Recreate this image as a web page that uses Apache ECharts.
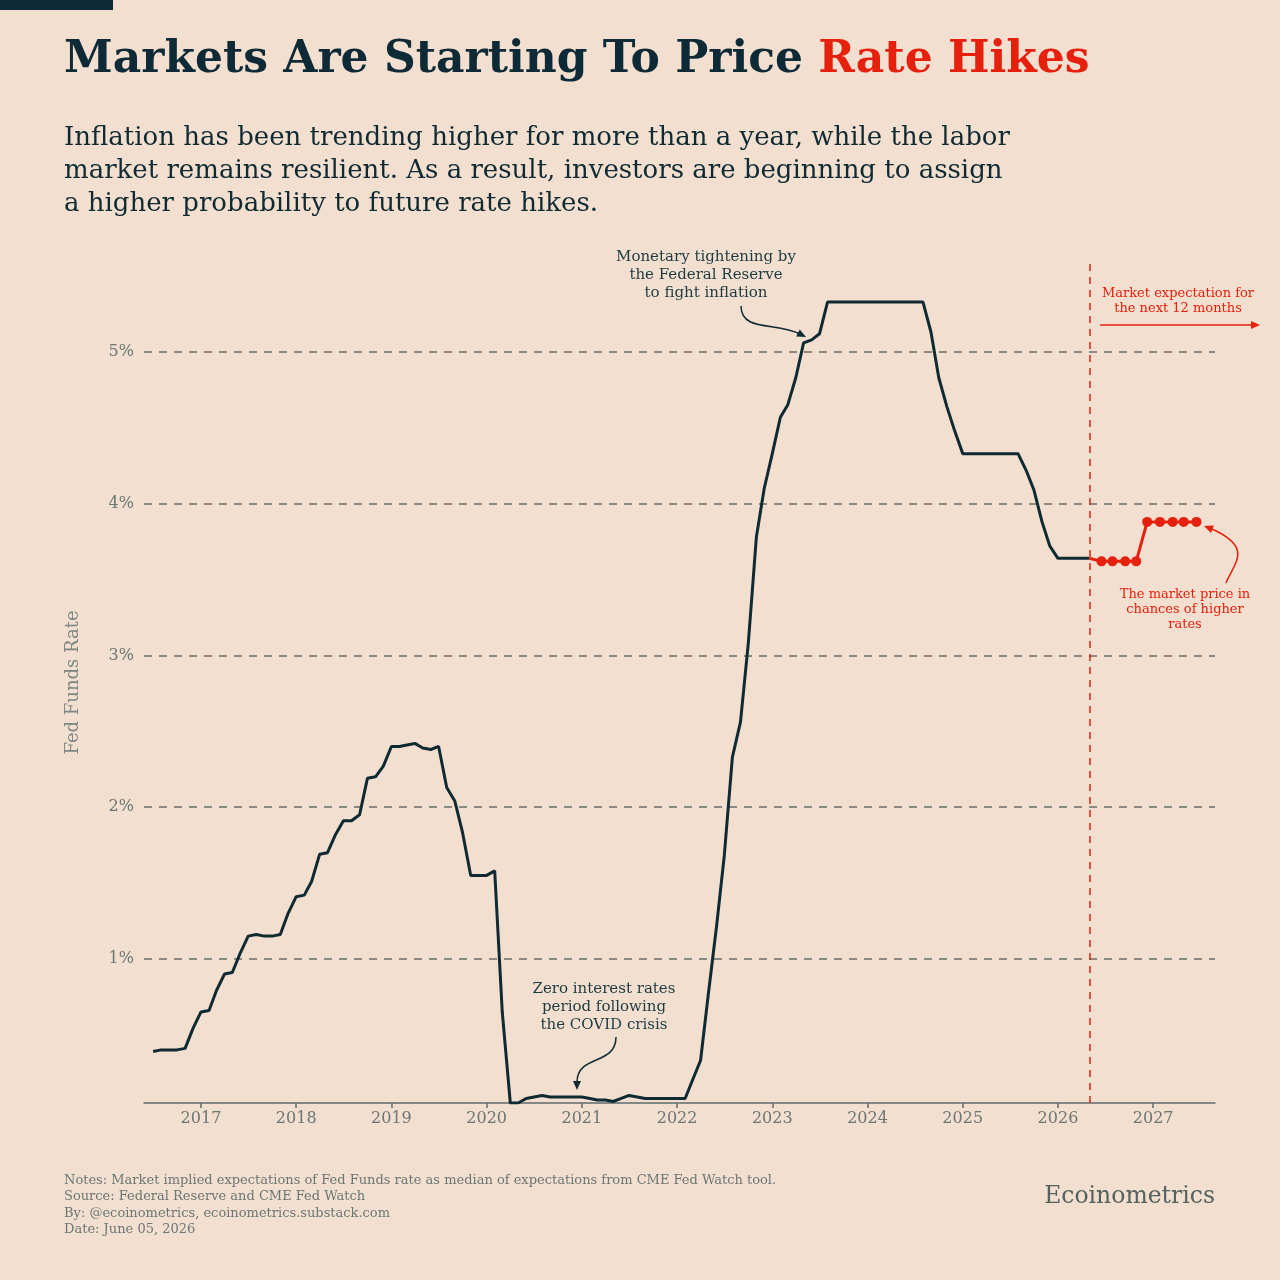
<!DOCTYPE html>
<html>
<head>
<meta charset="utf-8">
<script src="https://cdn.jsdelivr.net/npm/echarts@6.0.0/dist/echarts.min.js"></script>
<style>
  html, body { margin: 0; padding: 0; background: #f2dfcf; }
  #ChartDom { width: 1280px; height: 1280px; }
</style>
</head>
<body>
<div id="ChartDom"></div>
<script>
// monthly effective fed funds rate, starting July 2016
const startYear = 2016
const startMonth = 7
const fedFunds = [
  0.39, 0.40, 0.40, 0.40, 0.41, 0.54,
  0.65, 0.66, 0.79, 0.90, 0.91, 1.04, 1.15, 1.16, 1.15, 1.15, 1.16, 1.30,
  1.41, 1.42, 1.51, 1.69, 1.70, 1.82, 1.91, 1.91, 1.95, 2.19, 2.20, 2.27,
  2.40, 2.40, 2.41, 2.42, 2.39, 2.38, 2.40, 2.13, 2.04, 1.83, 1.55, 1.55,
  1.55, 1.58, 0.65, 0.05, 0.05, 0.08, 0.09, 0.10, 0.09, 0.09, 0.09, 0.09,
  0.09, 0.08, 0.07, 0.07, 0.06, 0.08, 0.10, 0.09, 0.08, 0.08, 0.08, 0.08,
  0.08, 0.08, 0.20, 0.33, 0.77, 1.21, 1.68, 2.33, 2.56, 3.08, 3.78, 4.10,
  4.33, 4.57, 4.65, 4.83, 5.06, 5.08, 5.12, 5.33, 5.33, 5.33, 5.33, 5.33,
  5.33, 5.33, 5.33, 5.33, 5.33, 5.33, 5.33, 5.33, 5.13, 4.83, 4.64, 4.48,
  4.33, 4.33, 4.33, 4.33, 4.33, 4.33, 4.33, 4.33, 4.22, 4.09, 3.88, 3.72,
  3.64, 3.64, 3.64, 3.64, 3.64
]
// market implied path at upcoming FOMC meetings
const lastObserved = "2026-05-01"
const meetingDates = [
  "2026-06-17", "2026-07-29", "2026-09-16", "2026-10-28", "2026-12-09",
  "2027-01-27", "2027-03-17", "2027-04-28", "2027-06-16"
]
const expectedRates = [3.62, 3.62, 3.62, 3.62, 3.88, 3.88, 3.88, 3.88, 3.88]
const yearTicks = [2017, 2018, 2019, 2020, 2021, 2022, 2023, 2024, 2025, 2026, 2027]
const rateTicks = [1, 2, 3, 4, 5]

const DARK = "#0f2a33"
const RED = "#e5200c"
const GREY = "#6b7675"
const FONT = "DejaVu Serif"

// date string -> decimal year, so the x axis can be a plain value axis
function toYear(s) {
  const p = s.split("-").map(Number)
  const start = Date.UTC(p[0], 0, 1)
  const end = Date.UTC(p[0] + 1, 0, 1)
  return p[0] + (Date.UTC(p[0], p[1] - 1, p[2]) - start) / (end - start)
}

function monthDate(i) {
  const m = startMonth - 1 + i
  const y = startYear + Math.floor(m / 12)
  const mm = (m % 12) + 1
  return y + "-" + String(mm).padStart(2, "0") + "-01"
}

const lineData = fedFunds.map((v, i) => [toYear(monthDate(i)), v])
const expData = [{ value: [toYear(lastObserved), fedFunds[fedFunds.length - 1]], symbol: "none" }]
meetingDates.forEach((d, i) => expData.push([toYear(d), expectedRates[i]]))

function arrowHead(x, y, dx, dy, color) {
  const len = Math.sqrt(dx * dx + dy * dy)
  const ux = dx / len, uy = dy / len
  const bx = x - ux * 9, by = y - uy * 9
  return {
    type: "polygon",
    shape: { points: [[x, y], [bx - uy * 4, by + ux * 4], [bx + uy * 4, by - ux * 4]] },
    style: { fill: color },
    z: 20,
  }
}

function curve(s, color) {
  return {
    type: "bezierCurve",
    shape: s,
    style: { stroke: color, lineWidth: 1.5, fill: null },
    z: 20,
  }
}

const chartDom = document.getElementById("ChartDom")
const myChart = echarts.init(chartDom)
const option = {
  backgroundColor: "#f2dfcf",
  animation: false,
  textStyle: { fontFamily: FONT },
  grid: { left: 144, right: 65, top: 262, bottom: 177 },
  xAxis: {
    type: "value",
    min: toYear("2016-05-27"),
    max: toYear("2027-08-26"),
    axisLine: { show: true, lineStyle: { color: "#5f6c6c", width: 1.5 } },
    axisTick: { show: true, length: 5, customValues: yearTicks, lineStyle: { color: "#5f6c6c", width: 1.5 } },
    axisLabel: {
      customValues: yearTicks,
      color: GREY,
      fontSize: 16,
      fontFamily: FONT,
      margin: 8,
      formatter: (v) => String(v),
    },
    splitLine: { show: false },
  },
  yAxis: {
    type: "value",
    min: 0.05,
    max: 5.593,
    name: "Fed Funds Rate",
    nameLocation: "middle",
    nameGap: 62,
    nameTextStyle: { color: "#7d8784", fontSize: 18, fontFamily: FONT },
    axisLine: { show: false },
    axisTick: { show: false, customValues: rateTicks },
    axisLabel: {
      customValues: rateTicks,
      color: GREY,
      fontSize: 16,
      fontFamily: FONT,
      margin: 10,
      formatter: "{value}%",
    },
    splitLine: { show: true, lineStyle: { color: "#6a6e6c", width: 1.5, type: [8, 7] } },
  },
  series: [
    {
      name: "Fed Funds",
      type: "line",
      data: lineData,
      symbol: "none",
      lineStyle: { color: DARK, width: 3 },
      z: 5,
      markLine: {
        silent: true,
        symbol: "none",
        label: { show: false },
        lineStyle: { color: RED, width: 1.5, type: [7, 6] },
        data: [{ xAxis: toYear(lastObserved) }],
      },
    },
    {
      name: "Expectation",
      type: "line",
      data: expData,
      symbol: "circle",
      symbolSize: 10,
      itemStyle: { color: RED },
      lineStyle: { color: RED, width: 3 },
      z: 6,
    },
  ],
  graphic: [
    { type: "rect", shape: { x: 0, y: 0, width: 113, height: 10 }, style: { fill: "#0d2a36" } },
    {
      type: "text",
      x: 64,
      y: 61,
      style: {
        text: "{a|Markets Are Starting To Price }{b|Rate Hikes}",
        verticalAlign: "middle",
        rich: {
          a: { fontFamily: FONT, fontWeight: "bold", fontSize: 44, fill: "#0d2a36" },
          b: { fontFamily: FONT, fontWeight: "bold", fontSize: 44, fill: RED },
        },
      },
    },
    {
      type: "text",
      x: 64,
      y: 122,
      style: {
        text: "Inflation has been trending higher for more than a year, while the labor\nmarket remains resilient. As a result, investors are beginning to assign\na higher probability to future rate hikes.",
        fontFamily: FONT,
        fontSize: 26,
        lineHeight: 33,
        fill: DARK,
      },
    },
    {
      type: "text",
      x: 706,
      y: 248,
      style: {
        text: "Monetary tightening by\nthe Federal Reserve\nto fight inflation",
        align: "center",
        fontFamily: FONT,
        fontSize: 15,
        lineHeight: 18,
        fill: "#1d3a40",
      },
    },
    curve({ x1: 741, y1: 306, cpx1: 741, cpy1: 332, cpx2: 776, cpy2: 322, x2: 800, y2: 334 }, DARK),
    arrowHead(806, 337, 24, 12, DARK),
    {
      type: "text",
      x: 604,
      y: 980,
      style: {
        text: "Zero interest rates\nperiod following\nthe COVID crisis",
        align: "center",
        fontFamily: FONT,
        fontSize: 15,
        lineHeight: 18,
        fill: "#1d3a40",
      },
    },
    curve({ x1: 616, y1: 1037, cpx1: 616, cpy1: 1066, cpx2: 577, cpy2: 1054, x2: 577, y2: 1082 }, DARK),
    arrowHead(577, 1090, 0, 1, DARK),
    {
      type: "text",
      x: 1178,
      y: 286,
      style: {
        text: "Market expectation for\nthe next 12 months",
        align: "center",
        fontFamily: FONT,
        fontSize: 13,
        lineHeight: 15,
        fill: RED,
      },
    },
    { type: "line", shape: { x1: 1100, y1: 325, x2: 1252, y2: 325 }, style: { stroke: RED, lineWidth: 1.5 }, z: 20 },
    arrowHead(1260, 325, 1, 0, RED),
    {
      type: "text",
      x: 1185,
      y: 587,
      style: {
        text: "The market price in\nchances of higher\nrates",
        align: "center",
        fontFamily: FONT,
        fontSize: 13,
        lineHeight: 15,
        fill: RED,
      },
    },
    curve({ x1: 1226, y1: 583, cpx1: 1234, cpy1: 563, cpx2: 1254, cpy2: 548, x2: 1212, y2: 529 }, RED),
    arrowHead(1204, 526, -40, -15, RED),
    {
      type: "text",
      x: 64,
      y: 1172,
      style: {
        text: "Notes: Market implied expectations of Fed Funds rate as median of expectations from CME Fed Watch tool.\nSource: Federal Reserve and CME Fed Watch\nBy: @ecoinometrics, ecoinometrics.substack.com\nDate: June 05, 2026",
        fontFamily: FONT,
        fontSize: 13,
        lineHeight: 16.5,
        fill: GREY,
      },
    },
    {
      type: "text",
      x: 1215,
      y: 1197,
      style: {
        text: "Ecoinometrics",
        align: "right",
        verticalAlign: "middle",
        fontFamily: FONT,
        fontSize: 23.5,
        fill: "#55615f",
      },
    },
  ],
}
myChart.setOption(option)
</script>
</body>
</html>
